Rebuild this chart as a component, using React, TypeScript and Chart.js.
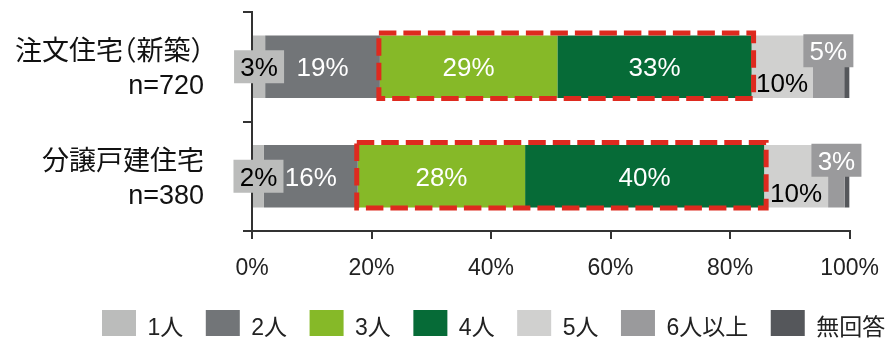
import React, { useEffect, useRef } from "react";
import { Chart, registerables } from "chart.js";

Chart.register(...registerables);

// ---- data ----
const categories = ["注文住宅（新築）", "分譲戸建住宅"];
const sampleSizes = ["n=720", "n=380"];
const seriesNames = ["1人", "2人", "3人", "4人", "5人", "6人以上", "無回答"];
const seriesColors = ["#bbbcbb", "#727578", "#86b928", "#066b37", "#d0d0cf", "#9a9a9c", "#55575b"];

const onePerson = [2.2, 2.0];
const twoPersons = [19.2, 15.7];
const threePersons = [29.7, 28.0];
const fourPersons = [32.5, 40.0];
const fivePersons = [10.2, 10.7];
const sixOrMore = [5.3, 2.8];
const noAnswer = [0.9, 0.8];

// printed labels (%), as shown in the source
const onePersonShown = [3, 2];
const twoPersonsShown = [19, 16];
const threePersonsShown = [29, 28];
const fourPersonsShown = [33, 40];
const fivePersonsShown = [10, 10];
const sixOrMoreShown = [5, 3];
const noAnswerShown: (number | null)[] = [null, null];

const xTickStep = 20;
const xMax = 100;

const seriesValues = [onePerson, twoPersons, threePersons, fourPersons, fivePersons, sixOrMore, noAnswer];
const seriesShown = [onePersonShown, twoPersonsShown, threePersonsShown, fourPersonsShown, fivePersonsShown, sixOrMoreShown, noAnswerShown];

// label styles per series
const labelStyles: ({ color: string; box: boolean; dy: number } | null)[] = [
  { color: "#000", box: true, dy: 0 },
  { color: "#fff", box: false, dy: 0 },
  { color: "#fff", box: false, dy: 0 },
  { color: "#fff", box: false, dy: 0 },
  { color: "#000", box: false, dy: 16 },
  { color: "#fff", box: true, dy: -16 },
  null,
];

const FONT = "'Liberation Sans', Arial, 'Noto Sans CJK JP', sans-serif";

function drawCjkLine(ctx: CanvasRenderingContext2D, text: string, rightX: number, baseline: number, size: number) {
  const segs: { ch: string; w: number; off: number }[] = [];
  for (const ch of Array.from(text)) {
    if (ch === "（") segs.push({ ch, w: size * 0.5, off: -size * 0.5 });
    else if (ch === "）") segs.push({ ch, w: size * 0.5, off: 0 });
    else segs.push({ ch, w: ctx.measureText(ch).width, off: 0 });
  }
  const total = segs.reduce((a, s) => a + s.w, 0);
  let pen = rightX - total;
  ctx.textAlign = "left";
  for (const s of segs) {
    ctx.fillText(s.ch, pen + s.off, baseline);
    pen += s.w;
  }
}

const overlayPlugin = {
  id: "overlay",
  afterDatasetsDraw(chart: any) {
    const ctx: CanvasRenderingContext2D = chart.ctx;
    // red dashed frames around 3人 + 4人
    const m3 = chart.getDatasetMeta(2);
    const m4 = chart.getDatasetMeta(3);
    ctx.save();
    ctx.strokeStyle = "#de2a1f";
    ctx.lineWidth = 5;
    ctx.setLineDash([17.5, 7]);
    categories.forEach((_, i) => {
      const a = m3.data[i];
      const b = m4.data[i];
      const left = Math.min(a.base, a.x) - 1;
      const right = Math.max(b.base, b.x) + 2;
      const top = a.y - a.height / 2 - 2.5;
      const bottom = a.y + a.height / 2 + 0.5;
      ctx.strokeRect(left, top, right - left, bottom - top);
    });
    ctx.restore();

    // value labels
    ctx.save();
    ctx.font = `26px ${FONT}`;
    ctx.textAlign = "center";
    ctx.textBaseline = "alphabetic";
    seriesShown.forEach((shown, d) => {
      const st = labelStyles[d];
      if (!st) return;
      const meta = chart.getDatasetMeta(d);
      shown.forEach((v, i) => {
        if (v === null || v === undefined) return;
        const el = meta.data[i];
        const cx = (el.base + el.x) / 2;
        const cy = el.y + st.dy;
        if (st.box) {
          ctx.fillStyle = seriesColors[d];
          ctx.fillRect(cx - 25, cy - 16.5, 50, 33);
        }
        ctx.fillStyle = st.color;
        ctx.fillText(`${v}%`, cx, cy + 9.3);
      });
    });
    ctx.restore();
  },
  afterDraw(chart: any) {
    const ctx: CanvasRenderingContext2D = chart.ctx;
    const yScale = chart.scales.y;
    ctx.save();
    ctx.fillStyle = "#111";
    ctx.textBaseline = "alphabetic";
    categories.forEach((cat, i) => {
      const cy = yScale.getPixelForValue(i);
      ctx.font = `27px ${FONT}`;
      drawCjkLine(ctx, cat, 204, cy - 6.5, 27);
      ctx.textAlign = "right";
      ctx.fillText(sampleSizes[i], 204, cy + 27.25);
    });

    // legend
    ctx.font = `23px ${FONT}`;
    ctx.textAlign = "left";
    let x = 102;
    chart.data.datasets.forEach((ds: any) => {
      ctx.fillStyle = ds.backgroundColor;
      ctx.fillRect(x, 310, 34, 26);
      ctx.fillStyle = "#222";
      ctx.fillText(ds.label, x + 45.5, 334.5);
      x += 34 + 11.5 + ctx.measureText(ds.label).width + 22.5;
    });
    ctx.restore();
  },
};

export default function App() {
  const ref = useRef<HTMLCanvasElement>(null);
  useEffect(() => {
    const chart = new Chart(ref.current as HTMLCanvasElement, {
      type: "bar",
      data: {
        labels: categories,
        datasets: seriesNames.map((name, i) => ({
          label: name,
          data: seriesValues[i],
          backgroundColor: seriesColors[i],
          borderWidth: 0,
          barPercentage: 1,
          categoryPercentage: 0.57,
        })),
      },
      options: {
        indexAxis: "y",
        animation: false,
        responsive: false,
        devicePixelRatio: 1,
        layout: { padding: { top: 12, right: 43, left: 0, bottom: 0 } },
        plugins: {
          legend: { display: false },
          tooltip: { enabled: false },
        },
        scales: {
          x: {
            stacked: true,
            min: 0,
            max: xMax,
            ticks: {
              stepSize: xTickStep,
              callback: (v: any) => `${v}%`,
              font: { size: 23, family: FONT },
              color: "#222",
              padding: 16,
            },
            grid: { drawOnChartArea: false, tickLength: 8, color: "#333", lineWidth: 2 },
            border: { color: "#333", width: 2 },
            afterFit: (s: any) => {
              s.height = 115;
            },
          },
          y: {
            stacked: true,
            ticks: { display: false },
            grid: { drawOnChartArea: false, tickLength: 9, color: "#333", lineWidth: 2 },
            border: { color: "#333", width: 2 },
            afterFit: (s: any) => {
              s.width = 252;
            },
          },
        },
      },
      plugins: [overlayPlugin],
    } as any);
    return () => chart.destroy();
  }, []);

  return (
    <div style={{ position: "fixed", left: 0, top: 0, width: 895, height: 346, background: "#fff" }}>
      <canvas ref={ref} width={895} height={346} style={{ display: "block", width: 895, height: 346 }} />
    </div>
  );
}
